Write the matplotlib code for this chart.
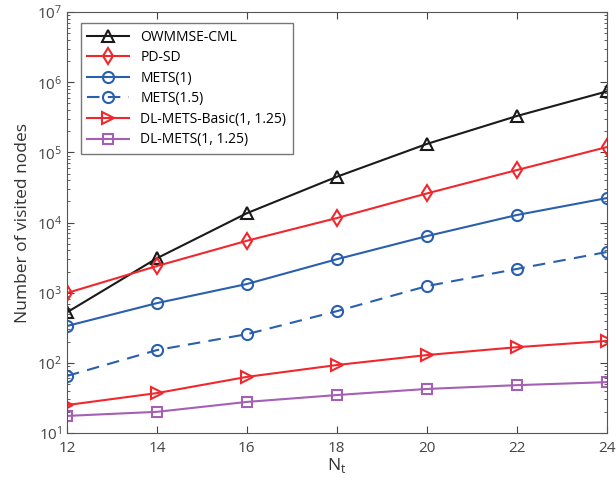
import numpy as np
import matplotlib.pyplot as plt

plt.rcParams['font.family'] = ['Open Sans', 'DejaVu Sans']

nt = [12, 14, 16, 18, 20, 22, 24]
owmmse = [525, 3100, 13600, 45000, 132000, 330000, 740000]
pdsd = [990, 2400, 5500, 11600, 26000, 56000, 119000]
mets1 = [335, 710, 1330, 3000, 6400, 12800, 22300]
mets15 = [65, 152, 256, 545, 1240, 2180, 3800]
dlbasic = [25, 37, 63, 93, 129, 167, 205]
dlmets = [17.5, 20, 27.7, 34.7, 42.4, 48, 53]
labels = ['OWMMSE-CML', 'PD-SD', 'METS(1)', 'METS(1.5)', 'DL-METS-Basic(1, 1.25)', 'DL-METS(1, 1.25)']

red = '#f0282d'
blue = '#2a5fae'
purple = '#a55fb4'

fig = plt.figure(figsize=(6.16, 4.87), dpi=100)
ax = fig.add_axes([0.1088, 0.111, 0.876, 0.864])

kw = dict(lw=1.5, ms=8, mfc='none', mew=1.5)
ax.plot(nt, owmmse, '-^', color='#1a1a1a', label=labels[0], **kw)
ax.plot(nt, pdsd, '-d', color=red, label=labels[1], **kw)
ax.plot(nt, mets1, '-o', color=blue, label=labels[2], **kw)
ax.plot(nt, mets15, '--o', color=blue, label=labels[3], dashes=(6, 4), **kw)
ax.plot(nt, dlbasic, '->', color=red, label=labels[4], **kw)
ax.plot(nt, dlmets, '-s', color=purple, label=labels[5], lw=1.5, ms=6.5, mfc='none', mew=1.5)

ax.set_yscale('log')
ax.set_xlim(12, 24)
ax.set_ylim(10, 1e7)
ax.set_xticks(nt)
ax.tick_params(which='both', direction='in', top=True, right=True, colors='#444444', labelsize=11)
ax.tick_params(which='major', length=5)
ax.tick_params(which='minor', length=2.5)
ax.tick_params(axis='x', pad=6)
for s in ax.spines.values():
    s.set_color('#555555')
ax.set_xlabel('N$_\\mathregular{t}$', fontsize=12.5, color='#333333', labelpad=0)
ax.set_ylabel('Number of visited nodes', fontsize=12.5, color='#333333')

leg = ax.legend(loc='upper left', bbox_to_anchor=(0.025, 0.975), borderaxespad=0, fontsize=10,
                fancybox=False, edgecolor='#555555', handlelength=3.0, borderpad=0.5,
                labelspacing=0.4)
leg.get_frame().set_linewidth(1.0)

fig.savefig('out.png', dpi=100)
